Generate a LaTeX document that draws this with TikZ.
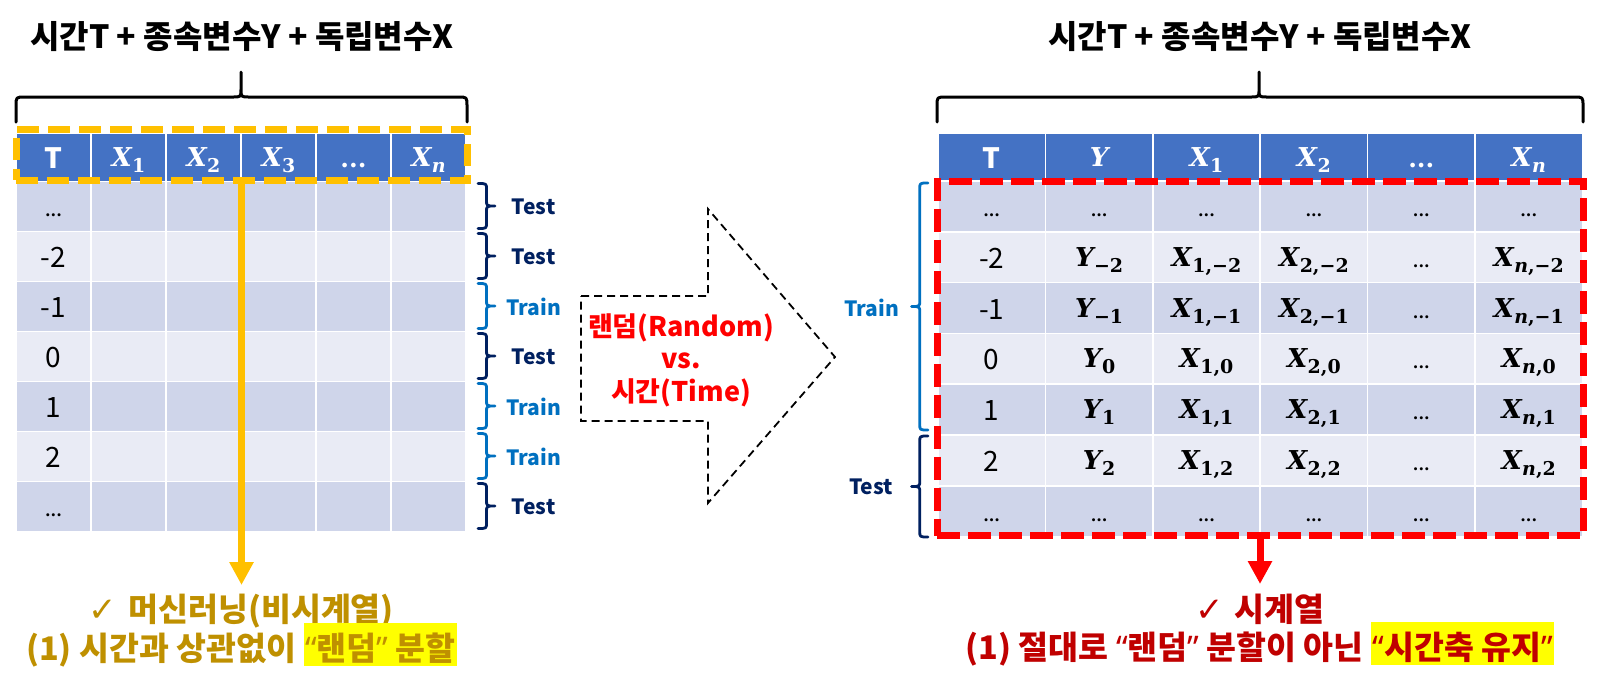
\RequirePackage{fix-cm}
\documentclass[tikz,border=0pt]{standalone}
\usepackage{fontspec}
\usetikzlibrary{arrows.meta}
\newfontfamily\kr{Noto Sans CJK KR}
\newfontfamily\sym{DejaVu Sans}
\newfontfamily\lat{Noto Sans}
\newfontfamily\mf{DejaVu Serif}
\definecolor{hdrblue}{HTML}{4472C4}
\definecolor{rowdk}{HTML}{CFD5EA}
\definecolor{rowlt}{HTML}{E9EBF5}
\definecolor{ygold}{HTML}{FFC000}
\definecolor{navy}{HTML}{002060}
\definecolor{trainblue}{HTML}{0070C0}
\definecolor{goldtxt}{HTML}{BF9000}
\definecolor{darkred}{HTML}{C00000}
\definecolor{hlyellow}{HTML}{FFFF00}
\definecolor{pred}{HTML}{FF0000}
\newcommand{\oq}{{\lat “}}
\newcommand{\cq}{{\lat ”}}
\newcommand{\hlbox}[1]{{\setlength{\fboxsep}{1.5pt}\colorbox{hlyellow}{\rule[-4.5pt]{0pt}{40pt}#1}}}
% variable with subscript: letter, subscript
\newcommand{\vv}[2]{{\mf\bfseries\itshape #1}\kern0.5pt\raisebox{-6pt}{\fontsize{19}{20}\selectfont\mf\bfseries #2}}
\newcommand{\dd}{{\mf\bfseries ...}}
\newcommand{\chk}{{\sym\fontsize{34}{36}\selectfont ✓}}
% vertical brace: color, x of ends, x of tip, y top, y bottom
\newcommand{\vbr}[5]{%
  \draw[color=#1, line width=2.8pt, line cap=round, line join=round]
    (#2,#4) .. controls ({(#2+#3)/2},#4) .. ({(#2+#3)/2},{#4+6})
    -- ({(#2+#3)/2},{(#4+#5)/2-6}) .. controls ({(#2+#3)/2},{(#4+#5)/2}) .. (#3,{(#4+#5)/2})
    .. controls ({(#2+#3)/2},{(#4+#5)/2}) .. ({(#2+#3)/2},{(#4+#5)/2+6})
    -- ({(#2+#3)/2},{#5-6}) .. controls ({(#2+#3)/2},#5) .. (#2,#5);}
% horizontal top brace: x left, x right, x tip
\newcommand{\hbr}[3]{%
  \draw[black, line width=3pt, line cap=round, line join=round]
    (#1,122) -- (#1,106) .. controls (#1,97) .. ({#1+9},97) -- ({#3-8},97)
    .. controls (#3,97) .. (#3,89) -- (#3,72) -- (#3,89)
    .. controls (#3,97) .. ({#3+8},97) -- ({#2-9},97) .. controls (#2,97) .. (#2,106) -- (#2,122);}
\tikzset{
  ttl/.style={font={\kr\bfseries\fontsize{32}{36}\selectfont}, text=black, inner sep=0},
  hcell/.style={fill=hdrblue, draw=white, line width=1.5pt},
  dcell/.style={fill=rowdk, draw=white, line width=1.5pt},
  lcell/.style={fill=rowlt, draw=white, line width=1.5pt},
  hT/.style={font={\kr\bfseries\fontsize{28}{30}\selectfont}, text=white, inner sep=0, anchor=base},
  hM/.style={font={\fontsize{26}{28}\selectfont}, text=white, inner sep=0, anchor=base},
  hD/.style={font={\fontsize{25}{28}\selectfont}, text=white, inner sep=0, anchor=base},
  cellnum/.style={font={\kr\fontsize{28}{30}\selectfont}, text=black, inner sep=0, anchor=base},
  cellM/.style={font={\fontsize{26}{28}\selectfont}, text=black, inner sep=0, anchor=base},
  cdots/.style={font={\fontsize{16}{20}\selectfont}, text=black, inner sep=0, anchor=base},
  blab/.style={font={\kr\bfseries\fontsize{21}{24}\selectfont}, inner sep=0},
  ybox/.style={draw=ygold, line width=7pt, dash pattern=on 22pt off 9pt, minimum width=451pt, minimum height=50.5pt, inner sep=0},
  rbox/.style={draw=pred, line width=7pt, dash pattern=on 23pt off 8pt, minimum width=646pt, minimum height=354.5pt, inner sep=0},
  yarr/.style={draw=ygold, line width=7pt, -{Triangle[width=23pt,length=23pt]}},
  rarr/.style={draw=pred, line width=7pt, -{Triangle[width=23pt,length=23pt]}},
  midarrow/.style={draw=black, line width=1.8pt, dash pattern=on 8pt off 5pt},
  midtxt/.style={font={\kr\bfseries\fontsize{27}{32.5}\selectfont}, text=pred, align=center, inner sep=0},
  note/.style={font={\kr\bfseries\fontsize{32.5}{36}\selectfont}, inner sep=0, anchor=base}
}
\begin{document}
\begin{tikzpicture}[x=1pt,y=-1pt]
\useasboundingbox (0,0) rectangle (1602,686);
\fill[white] (0,0) rectangle (1602,686);

% ---------- titles and top braces
\node[ttl] (ltitle) at (242,37) {시간T + 종속변수Y + 독립변수X};
\node[ttl] (rtitle) at (1260,37) {시간T + 종속변수Y + 독립변수X};
\hbr{16}{467}{241}
\hbr{937}{1583}{1259}

% ---------- left table
\foreach \j in {0,...,5} \draw[hcell] ({16+75*\j},133) rectangle ++(75,48.5);
\foreach \i in {0,2,4,6} \foreach \j in {0,...,5} \draw[dcell] ({16+75*\j},{181.5+50*\i}) rectangle ++(75,50);
\foreach \i in {1,3,5} \foreach \j in {0,...,5} \draw[lcell] ({16+75*\j},{181.5+50*\i}) rectangle ++(75,50);

\node[hT] (lhT) at (53.5,168) {T};
\node[hM] (lh1) at (128.5,166) {\vv{X}{1}};
\node[hM] (lh2) at (203.5,166) {\vv{X}{2}};
\node[hM] (lh3) at (278.5,166) {\vv{X}{3}};
\node[hD] (lhD) at (353.5,167) {\dd};
\node[hM] (lhN) at (428.5,166) {\vv{X}{\itshape n}};

\node[cdots] (lt0) at (53.5,216.5) {\dd};
\foreach \t [count=\i] in {-2,-1,0,1,2} \node[cellnum] (lt\i) at (53.5,{206.5+50*\i+11}) {\t};
\node[cdots] (lt6) at (53.5,516.5) {\dd};

\node[ybox] (ybox) at (241.5,154.75) {};
\coordinate (ytip) at (241.5,585);
\draw[yarr] (ybox.south) -- (ytip);

\foreach \lab/\col [count=\i from 0] in {Test/navy,Test/navy,Train/trainblue,Test/navy,Train/trainblue,Train/trainblue,Test/navy} {
  \vbr{\col}{478}{495}{183.5+50*\i}{228.5+50*\i}
  \node[blab, text=\col] (lb\i) at (533.5,{206.5+50*\i}) {\lab};
}

% ---------- middle arrow
\draw[midarrow] (581,296) -- (708,296) -- (708,209) -- (835,357) -- (708,503) -- (708,421) -- (581,421) -- cycle;
\node[midtxt] (midtxt) at (681,360) {랜덤(Random)\\vs.\\시간(Time)};

% ---------- right table
\foreach \j in {0,...,5} \draw[hcell] ({938+107.4*\j},133) rectangle ++(107.4,48);
\foreach \i in {0,2,4,6} \foreach \j in {0,...,5} \draw[dcell] ({938+107.4*\j},{181+50.8*\i}) rectangle ++(107.4,50.8);
\foreach \i in {1,3,5} \foreach \j in {0,...,5} \draw[lcell] ({938+107.4*\j},{181+50.8*\i}) rectangle ++(107.4,50.8);

\node[hT] (rhT) at (991.7,168) {T};
\node[hM] (rhY) at (1099.1,166) {{\mf\bfseries\itshape Y}};
\node[hM] (rh1) at (1206.5,166) {\vv{X}{1}};
\node[hM] (rh2) at (1313.9,166) {\vv{X}{2}};
\node[hD] (rhD) at (1421.3,167) {\dd};
\node[hM] (rhN) at (1528.7,166) {\vv{X}{\itshape n}};

\foreach \j in {0,...,5} {
  \node[cdots] (rdA\j) at ({991.7+107.4*\j},216.4) {\dd};
  \node[cdots] (rdB\j) at ({991.7+107.4*\j},521.2) {\dd};
}
\foreach \t/\s [count=\i] in {-2/−2,-1/−1,0/0,1/1,2/2} {
  \pgfmathsetmacro\yb{206.4+50.8*\i}
  \node[cellnum] (rT\i) at (991.7,\yb+11) {\t};
  \node[cellM] (rY\i) at (1099.1,\yb+9) {\vv{Y}{\s}};
  \node[cellM] (rA\i) at (1206.5,\yb+9) {\vv{X}{1,\s}};
  \node[cellM] (rB\i) at (1313.9,\yb+9) {\vv{X}{2,\s}};
  \node[cdots] (rD\i) at (1421.3,\yb+10) {\dd};
  \node[cellM] (rN\i) at (1528.7,\yb+9) {\vv{X}{{\itshape n},\s}};
}

\node[rbox] (redbox) at (1260,358.25) {};
\coordinate (rtip) at (1260,584);
\draw[rarr] (redbox.south) -- (rtip);

\vbr{trainblue}{928}{911.5}{183}{430}
\vbr{navy}{928}{911.5}{436}{537}
\node[blab, text=trainblue] (rbTrain) at (871.5,307.5) {Train};
\node[blab, text=navy] (rbTest) at (871,487) {Test};

% ---------- notes
\node[note, text=goldtxt] (lnote1) at (241,621) {\chk\hspace{12pt}머신러닝(비시계열)};
\node[note, text=goldtxt] (lnote2) at (241.5,660) {(1) 시간과 상관없이 \hlbox{\oq 랜덤\cq\ 분할}};
\node[note, text=darkred] (rnote1) at (1260,621) {\chk\hspace{10pt}시계열};
\node[note, text=darkred] (rnote2) at (1260,659) {(1) 절대로 \oq 랜덤\cq\ 분할이 아닌 \hlbox{\oq 시간축 유지\cq}};
\end{tikzpicture}
\end{document}
